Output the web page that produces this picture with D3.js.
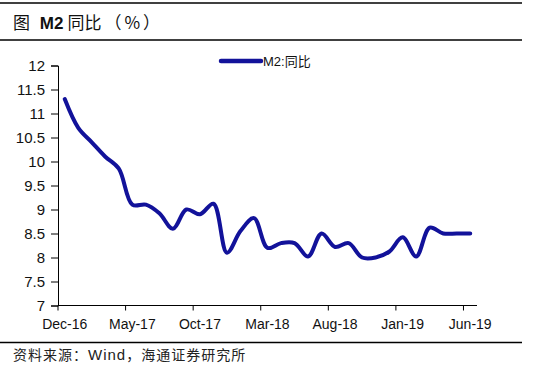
<!DOCTYPE html>
<html>
<head>
<meta charset="utf-8">
<script src="https://cdn.jsdelivr.net/npm/d3@7"></script>
<style>
  body { margin: 0; background: #fff; }
  svg { display: block; }
</style>
</head>
<body>
<div id="chart"></div>
<script>
// monthly M2 yoy, Dec-16 .. Jun-19
const months = ["Dec-16","Jan-17","Feb-17","Mar-17","Apr-17","May-17","Jun-17","Jul-17","Aug-17","Sep-17",
    "Oct-17","Nov-17","Dec-17","Jan-18","Feb-18","Mar-18","Apr-18","May-18","Jun-18","Jul-18",
    "Aug-18","Sep-18","Oct-18","Nov-18","Dec-18","Jan-19","Feb-19","Mar-19","Apr-19","May-19","Jun-19"];
const m2 = [11.3, 10.7, 10.4, 10.1, 9.85, 9.1, 9.1, 8.92, 8.6, 9.0,
    8.9, 9.12, 8.1, 8.55, 8.82, 8.2, 8.3, 8.3, 8.02, 8.5,
    8.22, 8.3, 8.0, 8.0, 8.12, 8.42, 8.02, 8.62, 8.5, 8.5, 8.5];
const yTicks = [7, 7.5, 8, 8.5, 9, 9.5, 10, 10.5, 11, 11.5, 12];
const seriesName = "M2:同比";

const width = 544, height = 369;
const lineColor = "#12129a";
const latin = "'Liberation Sans', Arial, sans-serif";
const cjk = "'Noto Sans CJK SC', sans-serif";

const svg = d3.select("#chart").append("svg")
    .attr("width", width)
    .attr("height", height);

const x = d3.scaleBand().domain(months).range([58, 477]).padding(0);
const y = d3.scaleLinear().domain([7, 12]).range([305.5, 65.5]);

// frame lines
[3, 40, 342.5].forEach(yy => {
    svg.append("line")
        .attr("x1", 0).attr("x2", 522)
        .attr("y1", yy).attr("y2", yy)
        .attr("stroke", "#000").attr("stroke-width", 1.3);
});

// title
const title = svg.append("text").attr("x", 13).attr("y", 29)
    .attr("font-size", 17).attr("fill", "#111");
title.append("tspan").attr("font-family", cjk).text("图 ");
title.append("tspan").attr("font-family", latin).attr("font-weight", "bold").attr("dx", 6).text("M2");
title.append("tspan").attr("font-family", cjk).attr("dx", 4).text("同比");
title.append("tspan").attr("font-family", cjk).attr("letter-spacing", 3).attr("dx", 3).text("（%）");

// y axis
const yAxis = d3.axisLeft(y).tickValues(yTicks).tickSize(7).tickPadding(6)
    .tickFormat(d3.format("~g"));
const gy = svg.append("g").attr("transform", "translate(58,0)").call(yAxis);
gy.select(".domain").attr("stroke", "#000");
gy.selectAll(".tick line").attr("stroke", "#000");
gy.selectAll(".tick text").attr("font-family", latin).attr("font-size", 15).attr("fill", "#111");

// x axis: ticks at category boundaries every 5 months, labels at category centers
const tickIdx = d3.range(0, months.length, 5);
const gx = svg.append("g").attr("transform", "translate(0,305.5)");
gx.append("line").attr("x1", 58).attr("x2", 477).attr("stroke", "#000");
gx.selectAll(".xt").data(tickIdx).join("line")
    .attr("class", "xt")
    .attr("x1", i => x(months[i])).attr("x2", i => x(months[i]))
    .attr("y1", 0).attr("y2", 5)
    .attr("stroke", "#000");
gx.selectAll(".xl").data(tickIdx).join("text")
    .attr("class", "xl")
    .attr("x", i => x(months[i]) + x.bandwidth() / 2)
    .attr("y", 23)
    .attr("text-anchor", "middle")
    .attr("font-family", latin).attr("font-size", 14).attr("fill", "#111")
    .text(i => months[i]);

// series
const line = d3.line()
    .x((d, i) => x(months[i]) + x.bandwidth() / 2)
    .y(d => y(d))
    .curve(d3.curveCatmullRom.alpha(0.5));

svg.append("path")
    .datum(m2)
    .attr("fill", "none")
    .attr("stroke", lineColor)
    .attr("stroke-width", 4)
    .attr("stroke-linecap", "round")
    .attr("stroke-linejoin", "round")
    .attr("d", line);

// legend
svg.append("line")
    .attr("x1", 221).attr("x2", 261)
    .attr("y1", 61).attr("y2", 61)
    .attr("stroke", lineColor).attr("stroke-width", 4.5)
    .attr("stroke-linecap", "round");
const lg = svg.append("text").attr("x", 263).attr("y", 66)
    .attr("font-size", 13).attr("fill", "#111");
lg.append("tspan").attr("font-family", latin).text("M2:");
lg.append("tspan").attr("font-family", cjk).text("同比");

// source note
const src = svg.append("text").attr("x", 13).attr("y", 360)
    .attr("font-size", 14).attr("fill", "#222").attr("letter-spacing", 1);
src.append("tspan").attr("font-family", cjk).text("资料来源：");
src.append("tspan").attr("font-family", latin).attr("font-size", 15).text("Wind");
src.append("tspan").attr("font-family", cjk).text("，海通证券研究所");
</script>
</body>
</html>
